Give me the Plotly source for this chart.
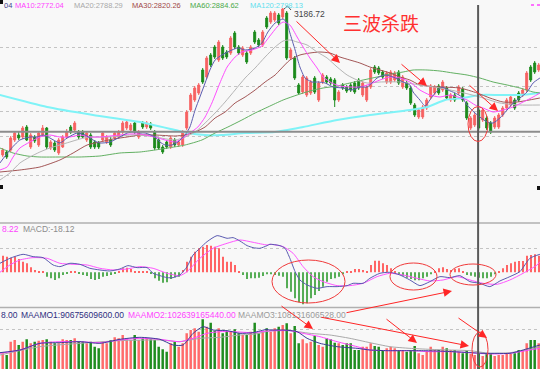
import plotly.graph_objects as go

W, H = 540, 369
FONT = "Liberation Sans, Arial, sans-serif"
CJK = "Noto Sans CJK SC"


def px(x):
    return x / W


def py(y):
    return 1 - y / H


# ---------------- candle data (index = trading day) ----------------
open_ = [2452, 2467, 2477, 2527, 2552, 2542, 2592, 2492, 2542, 2502,
         2552, 2587, 2487, 2512, 2462, 2492, 2542, 2592, 2577, 2567,
         2567, 2527, 2552, 2517, 2512, 2527, 2517, 2527, 2537, 2542,
         2567, 2587, 2577, 2612, 2542, 2612, 2592, 2607, 2567, 2527,
         2492, 2517, 2492, 2527, 2502, 2502, 2587, 2677, 2727, 2762,
         2877, 2842, 2952, 2992, 2927, 2992, 2967, 2962, 3062, 2992,
         2952, 2962, 2962, 3067, 3027, 3002, 3137, 3117, 3127, 3152,
         3142, 3162, 2937, 2937, 2802, 2767, 2752, 2762, 2837, 2727,
         2817, 2842, 2832, 2827, 2727, 2802, 2792, 2802, 2812, 2827,
         2752, 2727, 2792, 2892, 2887, 2867, 2817, 2817, 2827, 2867,
         2792, 2812, 2787, 2702, 2642, 2642, 2687, 2742, 2762, 2797,
         2777, 2787, 2727, 2752, 2762, 2782, 2712, 2587, 2602, 2677,
         2627, 2637, 2612, 2592, 2592, 2652, 2687, 2702, 2727, 2762,
         2752, 2777, 2892, 2912, 2877]
close = [2477, 2442, 2537, 2562, 2537, 2587, 2527, 2552, 2522, 2562,
         2587, 2492, 2517, 2477, 2527, 2542, 2567, 2567, 2612, 2542,
         2542, 2562, 2492, 2492, 2492, 2562, 2542, 2502, 2562, 2567,
         2612, 2617, 2602, 2567, 2567, 2592, 2612, 2587, 2487, 2487,
         2467, 2492, 2537, 2502, 2517, 2567, 2667, 2752, 2787, 2802,
         2817, 2937, 2902, 2942, 3017, 2937, 2942, 3037, 2992, 2962,
         2987, 2917, 2992, 3017, 3002, 3067, 3092, 3162, 3162, 3112,
         3182, 2937, 2977, 2837, 2762, 2842, 2837, 2817, 2767, 2812,
         2852, 2817, 2812, 2727, 2767, 2787, 2772, 2777, 2767, 2787,
         2812, 2792, 2877, 2867, 2862, 2842, 2862, 2867, 2862, 2812,
         2842, 2787, 2712, 2652, 2677, 2692, 2727, 2797, 2792, 2762,
         2817, 2737, 2752, 2727, 2792, 2727, 2637, 2637, 2652, 2587,
         2677, 2587, 2567, 2637, 2652, 2687, 2727, 2742, 2687, 2727,
         2777, 2862, 2827, 2867, 2902]
high = [2487, 2477, 2547, 2572, 2567, 2597, 2602, 2562, 2552, 2572,
        2602, 2592, 2527, 2522, 2537, 2552, 2582, 2602, 2622, 2577,
        2577, 2572, 2562, 2527, 2522, 2572, 2552, 2542, 2572, 2577,
        2622, 2627, 2612, 2622, 2577, 2622, 2622, 2617, 2577, 2537,
        2502, 2527, 2547, 2537, 2527, 2577, 2677, 2762, 2797, 2812,
        2887, 2947, 2962, 3002, 3027, 3002, 2977, 3047, 3072, 3002,
        2997, 2972, 3002, 3077, 3037, 3077, 3147, 3172, 3172, 3162,
        3186.72, 3172, 2987, 2947, 2812, 2852, 2847, 2827, 2847, 2822,
        2862, 2852, 2842, 2837, 2777, 2812, 2802, 2812, 2822, 2837,
        2822, 2802, 2887, 2902, 2897, 2877, 2872, 2877, 2872, 2877,
        2852, 2822, 2797, 2712, 2687, 2702, 2737, 2807, 2802, 2807,
        2827, 2797, 2762, 2762, 2802, 2792, 2722, 2647, 2662, 2687,
        2687, 2647, 2622, 2647, 2662, 2697, 2737, 2752, 2737, 2772,
        2787, 2872, 2902, 2922, 2912]
low = [2442, 2432, 2467, 2517, 2527, 2532, 2522, 2482, 2512, 2492,
       2547, 2482, 2477, 2467, 2452, 2487, 2532, 2557, 2567, 2532,
       2537, 2517, 2482, 2482, 2482, 2517, 2507, 2492, 2527, 2532,
       2557, 2577, 2567, 2557, 2532, 2582, 2582, 2577, 2477, 2477,
       2457, 2482, 2482, 2492, 2492, 2492, 2577, 2667, 2717, 2752,
       2807, 2832, 2892, 2932, 2917, 2927, 2932, 2952, 2982, 2952,
       2942, 2907, 2952, 3007, 2992, 2992, 3082, 3107, 3117, 3102,
       3132, 2927, 2927, 2827, 2752, 2757, 2742, 2752, 2757, 2717,
       2807, 2807, 2802, 2692, 2717, 2777, 2762, 2767, 2757, 2777,
       2742, 2717, 2782, 2857, 2852, 2832, 2807, 2807, 2817, 2802,
       2782, 2777, 2702, 2642, 2632, 2632, 2677, 2732, 2752, 2752,
       2767, 2727, 2717, 2717, 2752, 2717, 2627, 2577, 2592, 2577,
       2617, 2577, 2557, 2582, 2582, 2642, 2677, 2692, 2677, 2717,
       2742, 2767, 2817, 2857, 2867]

# traded amount (billion yuan)
amount = [94, 84, 164, 174, 144, 164, 178, 154, 164, 170,
          174, 178, 164, 154, 154, 178, 174, 174, 184, 164,
          164, 154, 164, 134, 124, 164, 154, 174, 190, 184,
          204, 178, 174, 204, 174, 184, 184, 178, 174, 134,
          118, 104, 154, 164, 134, 154, 214, 234, 244, 224,
          298, 254, 278, 230, 244, 214, 230, 224, 238, 214,
          204, 204, 224, 278, 214, 224, 244, 224, 244, 254,
          264, 274, 214, 258, 154, 178, 154, 164, 198, 144,
          134, 184, 178, 158, 154, 144, 154, 154, 114, 114,
          134, 134, 154, 138, 134, 114, 124, 134, 124, 114,
          114, 104, 114, 138, 94, 84, 104, 134, 114, 114,
          134, 124, 114, 114, 104, 94, 114, 90, 84, 94,
          78, 94, 94, 78, 84, 84, 94, 90, 94, 114,
          114, 154, 174, 174, 154]

macd_hist = [50, 47, 44, 47, 40, 32, 27, 15, 7, 2,
             2, -13, -18, -23, -18, -8, -3, 4, 4, -3,
             -8, -11, -20, -23, -20, -13, -11, -8, -3, 4,
             12, 14, 10, 4, 2, 4, 4, -3, -18, -25,
             -31, -30, -20, -15, -13, 7, 32, 47, 62, 72,
             77, 82, 80, 77, 72, 47, 32, 32, 22, 4,
             -8, -20, -18, -18, -16, -11, -6, -6, -8, -10,
             -13, -48, -58, -78, -90, -96, -93, -78, -68, -56,
             -43, -28, -20, -18, -13, -6, 4, 2, 10, 10,
             7, 4, 22, 35, 35, 27, 22, 12, 4, -6,
             -10, -16, -20, -24, -24, -18, -13, -6, 4, 12,
             15, 10, 7, 10, 12, 4, -8, -10, -13, -16,
             -18, -18, -13, -6, 4, 12, 22, 27, 32, 34,
             34, 50, 52, 54, 50]

# ---------------- moving-average lines ----------------
ma5_x = [-0.7, 1.8, 4.3, 6.8, 8.6, 10.1, 11.8, 14.3, 16.1, 18.6, 20.6, 22.6, 24.3, 26.8, 29.3, 31.1,
         32.6, 34.3, 35.6, 38.1, 39.3, 40.6, 42.3, 43.8, 45.6, 46.8, 48.1, 49.3, 50.6, 51.8, 53.1,
         54.8, 57.3, 58.8, 60.6, 63.1, 64.8, 66.3, 68.1, 70.1, 71.1, 71.8, 73.1, 74.3, 75.6, 77.3,
         78.8, 80.6, 82.6, 85.1, 87.3, 89.3, 91.1, 92.3, 93.6, 95.6, 97.6, 100.1, 101.8, 102.6,
         104.3, 105.6, 106.8, 108.1, 109.8, 111.3, 113.1, 114.8, 116.1, 117.8, 119.3, 121.1, 122.6,
         124.3, 126.1, 127.6, 129.3, 131.1, 132.6, 134.3]
ma5_y = [2412, 2477, 2527, 2542, 2542, 2552, 2537, 2512, 2537, 2562, 2552, 2527, 2512, 2517, 2542, 2562,
         2567, 2562, 2562, 2542, 2517, 2502, 2502, 2517, 2552, 2592, 2677, 2742, 2812, 2877, 2927,
         2952, 2977, 2987, 2977, 2987, 3012, 3067, 3112, 3132, 3112, 3062, 2977, 2892, 2837, 2817,
         2817, 2812, 2792, 2787, 2777, 2792, 2792, 2812, 2837, 2852, 2842, 2817, 2802, 2767,
         2727, 2697, 2727, 2762, 2792, 2777, 2762, 2742, 2702, 2667, 2642, 2617, 2612,
         2637, 2677, 2712, 2737, 2767, 2812, 2837]
ma10_x = [-0.7, 1.1, 2.6, 4.3, 6.8, 9.3, 11.8, 14.3, 16.8, 19.3, 21.8, 24.3, 26.8, 29.3, 31.8, 34.3,
          35.6, 38.1, 40.6, 43.1, 45.1, 46.8, 48.8, 50.6, 52.3, 54.3, 56.1, 58.1, 59.8, 62.3, 64.8,
          66.8, 68.6, 70.1, 71.8, 73.6, 75.1, 76.8, 78.6, 80.1, 82.3, 84.3, 86.8, 89.3, 91.8, 94.3,
          96.8, 99.3, 101.8, 104.3, 106.8, 109.3, 111.8, 113.8, 116.1, 118.1, 120.1, 122.6, 125.1,
          127.6, 130.1, 132.6, 134.3]
ma10_y = [2377, 2392, 2442, 2487, 2517, 2542, 2552, 2542, 2542, 2552, 2542, 2542, 2547, 2552, 2557, 2557,
          2552, 2542, 2527, 2517, 2537, 2562, 2592, 2642, 2712, 2812, 2892, 2942, 2967, 2977, 2997,
          3047, 3092, 3117, 3102, 3042, 2992, 2937, 2887, 2842, 2812, 2797, 2792, 2792, 2807, 2827,
          2842, 2837, 2817, 2777, 2752, 2742, 2752, 2742, 2727, 2702, 2687, 2667, 2677,
          2692, 2717, 2742, 2762]
ma20_x = [-0.7, 1.8, 4.3, 6.8, 9.3, 11.8, 14.3, 16.8, 19.3, 21.8, 24.3, 26.8, 29.3, 31.8, 34.3, 38.1,
          43.1, 45.6, 48.1, 50.6, 53.1, 55.6, 58.1, 60.6, 63.1, 65.6, 68.1, 70.1, 71.8, 73.6, 76.1,
          78.6, 81.1, 83.6, 86.1, 88.6, 91.1, 94.3, 99.3, 104.3, 109.3, 114.3, 119.3, 124.3, 129.3, 134.3]
ma20_y = [2327, 2362, 2412, 2442, 2467, 2487, 2502, 2517, 2532, 2542, 2542, 2542, 2547, 2552, 2552, 2542,
          2527, 2542, 2567, 2612, 2662, 2717, 2777, 2837, 2887, 2942, 2992, 3022, 3027, 3017, 3002,
          2967, 2937, 2892, 2852, 2827, 2812, 2817, 2817, 2802, 2787, 2767, 2742, 2712, 2702, 2702]
ma30_x = [-0.7, 4.3, 9.3, 14.3, 17.6, 21.1, 24.3, 27.6, 31.1, 34.3, 38.1, 43.1, 45.6, 48.1, 50.6, 53.1,
          55.6, 58.1, 60.6, 63.1, 65.6, 68.1, 69.3, 71.8, 74.3, 76.8, 79.3, 81.8, 84.3, 86.8, 89.3,
          91.8, 94.3, 96.8, 99.3, 101.8, 104.3, 109.3, 114.3, 118.6, 121.8, 125.1, 128.6, 134.3]
ma30_y = [2367, 2377, 2392, 2427, 2462, 2502, 2517, 2532, 2542, 2552, 2552, 2547, 2552, 2567, 2592, 2637,
          2667, 2712, 2742, 2777, 2817, 2852, 2877, 2927, 2952, 2962, 2967, 2962, 2942, 2927, 2912,
          2892, 2877, 2862, 2842, 2827, 2802, 2792, 2787, 2762, 2737, 2717, 2717, 2737]
ma60_x = [-0.7, 2.6, 6.1, 9.3, 14.3, 19.3, 24.3, 29.3, 34.3, 38.1, 41.3, 45.6, 49.8, 53.1, 56.3, 59.8,
          63.1, 66.3, 70.1, 73.6, 76.8, 80.1, 83.6, 86.8, 90.1, 93.6, 96.8, 100.1, 102.6, 106.1,
          109.3, 112.6, 116.1, 119.3, 122.6, 126.1, 129.3, 132.6, 134.3]
ma60_y = [2487, 2462, 2447, 2442, 2442, 2442, 2447, 2462, 2467, 2477, 2487, 2502, 2527, 2562, 2592, 2627,
          2662, 2692, 2727, 2752, 2772, 2787, 2797, 2812, 2827, 2842, 2857, 2867, 2877, 2877,
          2872, 2862, 2852, 2837, 2817, 2802, 2787, 2767, 2762]
ma120_x = [-0.7, 11.1, 22.6, 34.3, 43.1, 46.3, 50.6, 54.8, 60.6, 68.1, 75.1, 83.6, 91.8, 101.8, 106.1,
           110.6, 115.1, 119.3, 124.3, 129.3, 134.3]
ma120_y = [2752, 2692, 2652, 2617, 2577, 2562, 2552, 2552, 2562, 2567, 2592, 2627, 2652, 2677, 2692,
           2727, 2737, 2752, 2752, 2752, 2762]

dif_x = [-0.7, 1.8, 5.1, 7.6, 10.1, 12.6, 14.3, 16.8, 19.3, 21.8, 24.3, 26.8, 29.3, 31.3, 33.6, 36.1,
         37.6, 39.3, 41.1, 42.6, 44.3, 46.1, 47.6, 49.3, 51.1, 53.6, 56.1, 57.6, 59.3, 61.1, 62.6,
         64.3, 66.1, 66.8, 69.3, 70.6, 71.8, 73.1, 74.3, 76.1, 78.6, 81.1, 83.6, 86.1, 87.6, 90.1,
         91.8, 94.3, 96.8, 99.3, 101.8, 104.3, 106.8, 109.3, 111.8, 114.3, 116.8, 119.3, 121.8,
         124.3, 126.8, 129.3, 131.8, 134.3]
dif_y = [27, 42, 54, 47, 44, 22, 17, 27, 24, 12, 7, 4, 10, 20, 14, 14,
         -3, -10, -16, -16, -8, 17, 52, 72, 92, 110, 102, 104, 94, 80, 74,
         72, 80, 84, 80, 72, 42, 2, -23, -38, -48, -43, -43, -40, -33, -33,
         -18, -3, 0, -8, -23, -40, -28, -13, -16, -10, -28, -33, -43,
         -26, -13, 2, 42, 54]
dea_x = [-0.7, 1.8, 4.3, 7.6, 11.1, 14.3, 17.6, 21.1, 24.3, 27.6, 31.1, 34.3, 37.6, 41.1, 44.3,
         46.1, 49.3, 52.6, 56.1, 59.3, 62.6, 66.1, 66.8, 70.1, 72.6, 75.1, 77.6, 80.1, 83.6, 86.8,
         90.1, 93.6, 96.8, 100.1, 103.6, 106.8, 110.1, 113.6, 116.8, 120.1, 123.6, 126.8, 130.1,
         133.6, 134.3]
dea_y = [0, 22, 37, 44, 42, 27, 24, 22, 12, 7, 10, 17, 12, -3, -10,
         2, 42, 72, 87, 97, 90, 82, 84, 77, 57, 17, -13, -28, -40, -40,
         -33, -13, -3, -8, -18, -26, -23, -13, -23, -33, -36, -23, -3,
         22, 32]

amo1_x = [-0.7, 4.3, 9.3, 14.3, 19.3, 24.3, 29.3, 34.3, 39.3, 42.6, 45.1, 47.6, 50.1, 52.6, 56.1,
          59.3, 62.6, 66.1, 66.8, 70.1, 73.6, 76.1, 79.3, 83.6, 88.6, 91.8, 96.1, 100.1, 104.3,
          108.6, 112.6, 116.8, 120.1, 123.6, 126.8, 130.1, 134.3]
amo1_y = [98, 114, 154, 158, 164, 154, 178, 190, 178, 144, 144, 214, 254, 234, 230,
          214, 218, 238, 234, 234, 224, 184, 154, 134, 124, 114, 110, 110, 110,
          108, 104, 98, 94, 94, 94, 114, 144]
amo2_x = [-0.7, 4.3, 9.3, 14.3, 19.3, 24.3, 29.3, 34.3, 39.3, 44.3, 47.6, 51.1, 54.3, 57.6, 62.6,
          66.1, 71.8, 75.1, 79.3, 83.6, 88.6, 91.8, 96.8, 101.8, 106.8, 111.8, 116.8, 121.8,
          126.8, 131.8, 134.3]
amo2_y = [94, 114, 154, 164, 164, 158, 174, 184, 178, 164, 184, 214, 224, 224, 218,
          228, 230, 214, 194, 164, 134, 114, 110, 110, 104, 104, 98, 90,
          94, 114, 124]
amo3_x = [-0.7, 9.3, 19.3, 29.3, 39.3, 44.3, 49.3, 54.3, 59.3, 63.1, 66.8, 71.8, 76.8, 81.8, 86.8,
          91.8, 96.8, 101.8, 106.8, 111.8, 116.8, 121.8, 126.8, 131.8, 134.3]
amo3_y = [84, 134, 154, 170, 174, 164, 184, 190, 204, 210, 228, 230, 214, 204, 184,
          158, 134, 124, 118, 114, 110, 94, 98, 118, 134]

price_grid = [2349, 2547, 2669, 2794, 2989]
cursor_day = 119
cursor_price = 2568
peak_label = "3186.72"

# ---------------- colours ----------------
UP, DOWN = "#f66262", "#1b8a1b"
C_MA5, C_MA10, C_MA20, C_MA30, C_MA60, C_MA120 = "#5c5cb0", "#ff4dff", "#b5b5b5", "#a35656", "#62b062", "#7ff3f7"
RED = "#ff2626"

days = list(range(len(open_)))
fig = go.Figure()

fig.add_trace(go.Candlestick(
    x=days, open=open_, high=high, low=low, close=close,
    increasing=dict(line=dict(color=UP, width=1), fillcolor=UP),
    decreasing=dict(line=dict(color=DOWN, width=1), fillcolor=DOWN),
    whiskerwidth=0, hoverinfo="skip", xaxis="x", yaxis="y", showlegend=False))


def line(xs, ys, color, width=1.0, yaxis="y"):
    fig.add_trace(go.Scatter(x=xs, y=ys, mode="lines", yaxis=yaxis, hoverinfo="skip",
                             line=dict(color=color, width=width, shape="spline", smoothing=0.6),
                             showlegend=False))


line(ma120_x, ma120_y, C_MA120, 2)
line(ma60_x, ma60_y, C_MA60)
line(ma30_x, ma30_y, C_MA30)
line(ma20_x, ma20_y, C_MA20)
line(ma10_x, ma10_y, C_MA10)
line(ma5_x, ma5_y, C_MA5)

# MACD panel
fig.add_trace(go.Bar(x=days, y=macd_hist, width=0.3, yaxis="y2", hoverinfo="skip",
                     marker=dict(color=["#ff6464" if v >= 0 else "#56ad56" for v in macd_hist], line_width=0),
                     showlegend=False))
line(dea_x, dea_y, "#ff55ff", 1, "y2")
line(dif_x, dif_y, "#5a5ab0", 1, "y2")

# amount panel
fig.add_trace(go.Bar(x=days, y=amount, width=0.62, yaxis="y3", hoverinfo="skip",
                     marker=dict(color=["#ff6a6a" if c >= o else "#1f8c1f" for o, c in zip(open_, close)],
                                 line_width=0),
                     showlegend=False))
line(amo3_x, amo3_y, "#a8a8a8", 1, "y3")
line(amo2_x, amo2_y, "#ff44ff", 1, "y3")
line(amo1_x, amo1_y, "#3b3b96", 1, "y3")

shapes = []
# panel separators
for yy in (223, 307.5):
    shapes.append(dict(type="line", xref="paper", yref="paper", x0=0, x1=1, y0=py(yy), y1=py(yy),
                       line=dict(color="#b0b0b0", width=1.6)))
# crosshair
shapes.append(dict(type="line", xref="paper", yref="y", x0=0, x1=1, y0=cursor_price, y1=cursor_price,
                   line=dict(color="#8c8c8c", width=2)))
shapes.append(dict(type="line", xref="x", yref="paper", x0=cursor_day - 0.15, x1=cursor_day - 0.15,
                   y0=0, y1=py(5), line=dict(color="#5a5a5a", width=2)))
# ellipses
for (x0, y0, x1, y1) in [(468, 106.5, 488, 141.5), (272, 260, 345, 303), (390, 263, 437, 290),
                         (450, 264, 496, 285), (472, 332, 488, 367)]:
    shapes.append(dict(type="circle", xref="paper", yref="paper", x0=px(x0), x1=px(x1),
                       y0=py(y1), y1=py(y0), line=dict(color="#f03a3a", width=1)))
# peak leader
shapes.append(dict(type="path", xref="paper", yref="paper",
                   path=f"M {px(284)} {py(9)} L {px(287.5)} {py(6)} L {px(291)} {py(10)}",
                   line=dict(color="#555555", width=1)))
# small markers
for (x0, y0, x1, y1) in [(0, 0, 3, 4), (0, 185, 3, 189), (537, 186, 540, 190)]:
    shapes.append(dict(type="rect", xref="paper", yref="paper", x0=px(x0), x1=px(x1), y0=py(y1), y1=py(y0),
                       fillcolor="#111111", line_width=0))
shapes.append(dict(type="line", xref="paper", yref="paper", x0=px(531), x1=px(540), y0=py(5), y1=py(5),
                   line=dict(color="#ff44ff", width=1.5, dash="dot")))

annotations = []


def txt(x, y, s, color, size=8.5, family=FONT, anchor="left", yanchor="middle"):
    annotations.append(dict(x=px(x), y=py(y), xref="paper", yref="paper", text=s, showarrow=False,
                            xanchor=anchor, yanchor=yanchor, borderpad=0,
                            font=dict(size=size, color=color, family=family)))


TOPY = -0.5
txt(3, TOPY, "04", "#3c3c8c", 7.5, yanchor="top")
txt(14, TOPY, "MA10:2772.04", "#ff44ff", 7.5, yanchor="top")
txt(73, TOPY, "MA20:2788.29", "#a8a8a8", 7.5, yanchor="top")
txt(131, TOPY, "MA30:2820.26", "#a04848", 7.5, yanchor="top")
txt(189, TOPY, "MA60:2884.62", "#4aa84a", 7.5, yanchor="top")
txt(249, TOPY, "MA120:2798.13", "#5fe0ee", 7.5, yanchor="top")
txt(293, 14, peak_label, "#444444", 8.5)
txt(381, 22.5, "三波杀跌", "#ff3030", 19, CJK, "center")
txt(1, 229, "8.22", "#ff44ff")
txt(22, 229, "MACD:-18.12", "#8c8c8c")
txt(0, 315, "8.00", "#2e2e80")
txt(20, 315, "MAAMO1:90675609600.00", "#2e2e80")
txt(127, 315, "MAAMO2:102639165440.00", "#ff44ff")
txt(237, 315, "MAAMO3:108131606528.00", "#9a9a9a")

arrows = [((295, 20), (340, 63)), ((400, 63), (427, 86)), ((468, 84), (498, 111)),
          ((345, 313), (452, 291)),
          ((280, 305), (313, 329)), ((385, 318), (417, 343)), ((457, 317), (487, 338)),
          ((320, 317), (469, 346))]
for (tx, ty), (hx, hy) in arrows:
    annotations.append(dict(x=px(hx), y=py(hy), xref="paper", yref="paper", text="", showarrow=True,
                            ax=tx - hx, ay=ty - hy, arrowhead=2, arrowsize=1.7, arrowwidth=1,
                            arrowcolor=RED, standoff=0))

fig.update_layout(
    width=W, height=H, margin=dict(l=0, r=0, t=0, b=0),
    paper_bgcolor="#f8f8f8", plot_bgcolor="#f8f8f8",
    showlegend=False, hovermode=False,
    xaxis=dict(domain=[0, 1], range=[-0.675, 134.325], showticklabels=False, showgrid=False,
               zeroline=False, rangeslider=dict(visible=False), fixedrange=True, anchor="y3"),
    yaxis=dict(domain=[1 - 222 / H, 1], range=[2117, 3227], tickvals=price_grid, showticklabels=False,
               showgrid=True, gridcolor="#c4c4c4", griddash="dot", gridwidth=1, zeroline=False,
               fixedrange=True, anchor="x"),
    yaxis2=dict(domain=[1 - 307.5 / H, 1 - 223 / H], range=[-105.6, 147.9], tickvals=[70],
                showticklabels=False, showgrid=True, gridcolor="#c4c4c4", griddash="dot",
                zeroline=False, fixedrange=True, anchor="x"),
    yaxis3=dict(domain=[0, 1 - 307.5 / H], range=[0, 369], tickvals=[240], showticklabels=False,
                showgrid=True, gridcolor="#c4c4c4", griddash="dot", zeroline=False,
                fixedrange=True, anchor="x"),
    shapes=shapes, annotations=annotations,
)

fig.write_html("out.html", config={"displayModeBar": False},
               post_script="document.body.style.margin='0';document.body.style.overflow='hidden';"
                           "document.body.style.background='#f8f8f8';")
